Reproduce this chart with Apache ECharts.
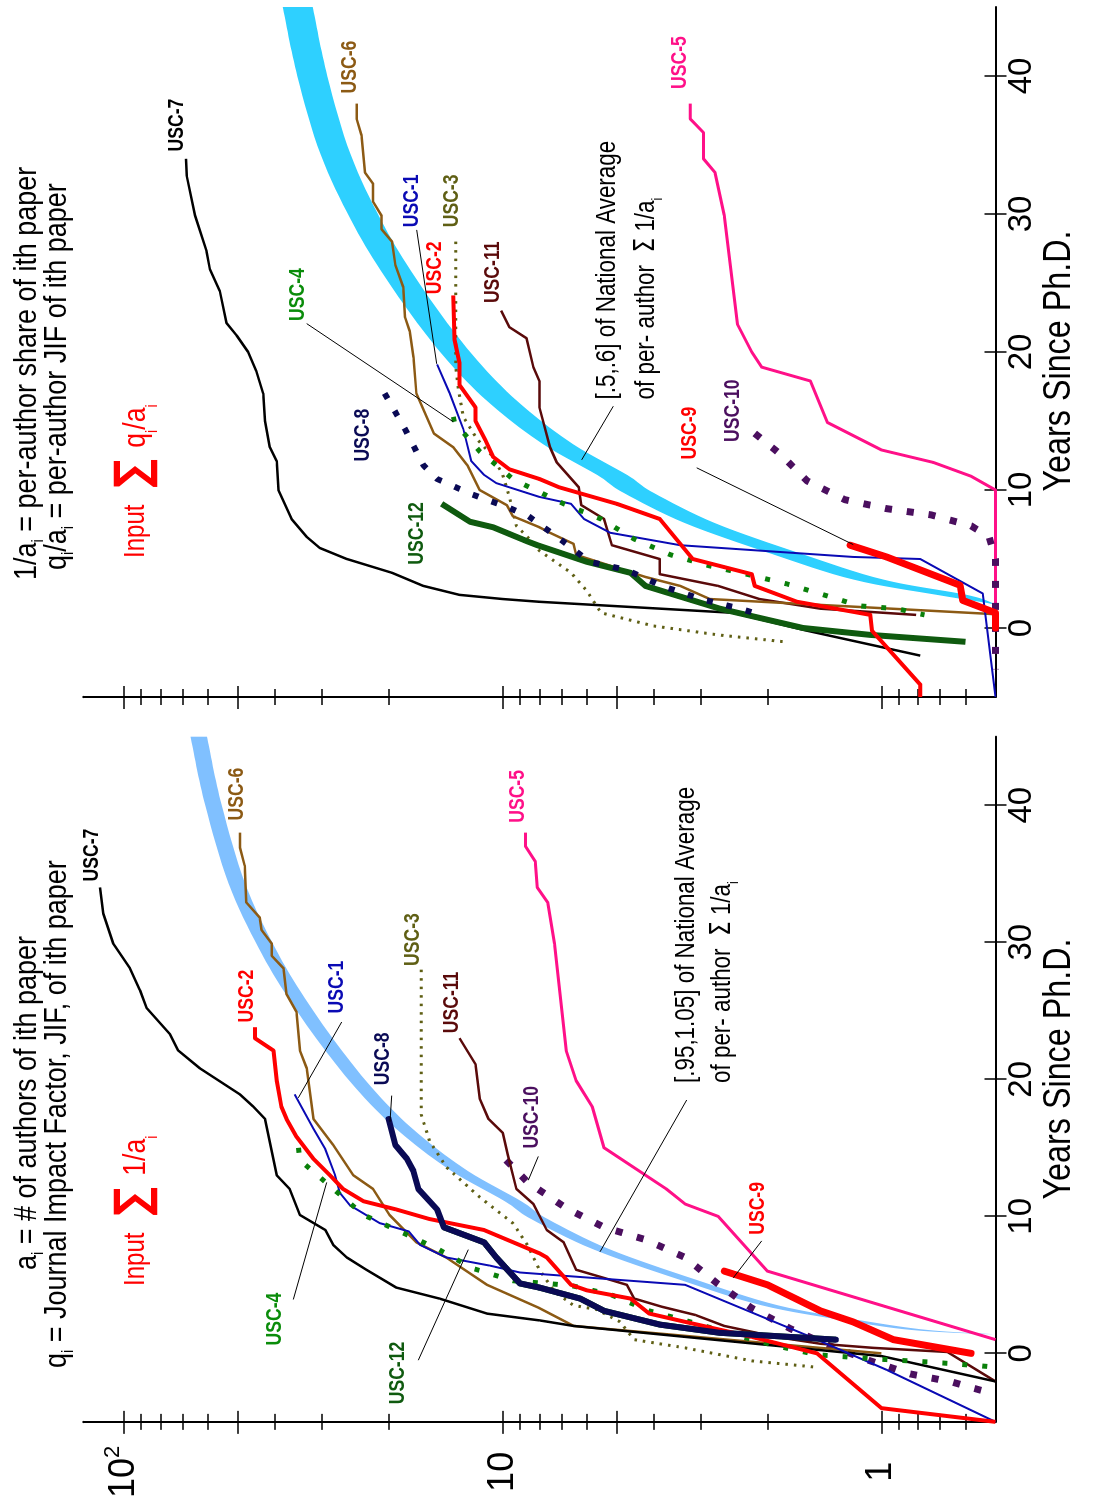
<!DOCTYPE html>
<html>
<head>
<meta charset="utf-8">
<script src="https://cdn.jsdelivr.net/npm/echarts@6/dist/echarts.min.js"></script>
<style>
  html, body { margin: 0; padding: 0; background: #fff; overflow: hidden; width: 1095px; height: 1501px; }
  /* the figure is laid out landscape and turned a quarter-turn counter-clockwise */
  #frame { position: absolute; left: 0; top: 0; width: 1501px; height: 1095px;
           transform-origin: 0 0; transform: translate(0, 1501px) rotate(-90deg); }
</style>
</head>
<body>
<div id="frame"></div>
<script>
// ---------- axis ticks ----------
const yearTicks = [0, 10, 20, 30, 40];
const logLabelValues = [1, 10, 100];
const majorTicks = [1, 5, 10, 50, 100];
const minorTicks = [0.6, 0.7, 0.8, 0.9, 2, 3, 4, 6, 7, 8, 9, 20, 30, 40, 60, 70, 80, 90];

// ---------- national average of per-author sum 1/a_i  [years since Ph.D., value] ----------
const nationalAvg = [[1.4,0.5],[1.7,0.79],[2.4,1.19],[3.5,1.97],[5.4,3.27],[7.6,5.5],[9.8,8.0],[11.1,9.4],
  [13.3,13],[15.8,17.2],[18.6,22],[22.1,28],[25.9,35],[29.6,42],[34.3,50.4],[40,58.1],[45,63.5]];
const bandLeft = [0.95, 1.05];   // [.95,1.05] of national average
const bandRight = [0.5, 0.6];    // [.5,.6] of national average

// ---------- left panel: sum of 1/a_i ----------
const usc7_invA = [[34.0,115.7],[32.1,113.4],[29.9,106.7],[28.1,96.4],[26.5,90.7],[25.2,87.1],[23.3,75.6],[22.1,71.9],[20.8,63.0],[18.9,49.4],[18.0,45.5],[17.1,42.4],[13.0,39.5],[12.0,36.5],[10.1,34.3],[9.0,29.4],[7.9,28.0],[7.0,25.8],[6.1,22.9],[4.8,19.1],[4.0,14.7],[2.9,11.0],[2.4,7.97],[2.0,6.5],[-0.2,1.0],[-2.05,0.5]];
const usc6_invA = [[38.0,49.4],[36.9,49.4],[35.6,48.0],[32.9,47.5],[31.8,43.8],[30.9,43.3],[29.9,40.7],[29.0,40.7],[28.1,37.9],[26.2,37.2],[24.9,35.0],[22.1,34.3],[20.8,32.9],[17.1,31.6],[15.2,28.0],[13.0,24.8],[12.0,22.0],[10.1,19.9],[8.1,16.9],[7.0,14.1],[5.0,11.0],[3.3,8.0],[2.0,6.5],[0.0,1.0]];
const usc2_invA = [[23.8,45.1],[23.0,45.1],[22.1,40.3],[19.9,39.5],[18.0,38.4],[17.1,37.2],[15.8,35.0],[14.2,31.6],[13.0,28.6],[12.0,26.4],[11.1,23.3],[10.5,19.1],[9.8,15.6],[9.0,11.2],[7.3,8.0],[7.0,7.65],[5.0,6.6],[4.6,6.0],[4.0,4.6],[2.9,4.1],[2.3,3.3],[1.2,2.2],[0.0,1.48],[-4.0,1.0],[-5.0,0.5]];
const usc1_invA = [[18.9,35.4],[16.4,31.6],[14.9,29.4],[13.0,27.7],[11.7,26.9],[10.8,25.3],[9.5,21.1],[8.9,17.7],[7.9,16.5],[7.0,14.1],[6.4,10.8],[5.9,9.0],[5.0,3.3],[4.0,2.7],[1.3,1.57],[-1.2,0.97],[-5.0,0.5]];
const usc3_invA = [[28.0,16.4],[17.4,16.4],[15.5,15.6],[13.6,14.1],[11.4,11.5],[9.5,9.4],[7.9,8.6],[6.1,8.0],[4.5,7.3],[3.5,6.5],[3.2,5.65],[2.3,4.9],[1.0,4.5],[0.4,3.3],[-0.55,2.2],[-1.0,1.5]];
const usc11_invA = [[23.0,13.0],[21.1,11.8],[18.6,11.5],[17.1,10.9],[16.1,10.0],[14.5,9.7],[12.0,9.2],[10.9,8.3],[9.0,7.65],[8.1,6.9],[6.1,6.4],[5.5,5.4],[5.0,4.7],[4.0,4.5],[3.4,3.8],[2.8,3.1],[2.0,2.6],[1.2,1.9],[0.7,1.45],[0.4,1.05],[0.1,0.67],[-2.05,0.5]];
const usc8_invA = [[17.1,20.0],[15.2,19.2],[14.2,17.9],[13.3,17.2],[12.0,16.7],[10.5,14.9],[9.2,14.3],[8.1,11.2],[7.0,10.4],[5.1,9.0],[4.8,8.0],[4.0,6.25],[3.1,5.4],[2.1,3.85],[1.5,2.67],[1.0,1.32]];
const usc12_invA = [[9.2,14.3],[8.1,11.2],[7.0,10.4],[5.1,9.0],[4.8,8.0],[4.0,6.25],[3.1,5.4],[2.1,3.85],[1.5,2.67],[1.0,1.32]];
const usc4_invA = [[15.0,34.6],[14.1,34.3],[12.0,28.0],[10.1,23.3],[8.9,18.7],[7.6,14.8],[6.2,12.0],[5.3,9.4],[4.95,6.6],[4.3,5.2],[3.1,4.1],[2.3,3.2],[1.3,2.4],[0.55,1.9],[-0.1,1.48],[-0.4,1.05],[-0.65,0.73],[-1.0,0.5]];
const usc5_invA = [[38.0,8.7],[37.0,8.7],[35.9,8.2],[34.0,8.1],[32.9,7.6],[29.9,7.3],[22.1,6.8],[19.9,6.4],[18.0,5.8],[15.0,5.4],[12.0,3.7],[10.9,3.3],[10.0,2.7],[6.0,2.0],[1.0,0.5]];
const usc10_invA = [[14.1,9.8],[12.5,8.6],[10.6,6.8],[9.2,5.4],[8.3,4.2],[7.0,3.3],[5.05,2.7],[3.3,2.2],[1.8,1.74],[0.55,1.37],[-0.55,1.07],[-1.5,0.84],[-2.1,0.65],[-3.0,0.5]];
const usc9_invA = [[6.0,2.6],[5.0,2.0],[3.1,1.45],[2.3,1.19],[1.0,0.93],[0.0,0.58]];

// ---------- right panel: sum of q_i/a_i ----------
const usc7_qA = [[34.0,68.6],[32.8,68.3],[29.9,64.9],[27.3,60.5],[26.0,59.3],[24.4,55.8],[22.1,53.6],[21.2,50.4],[20.0,47.0],[18.6,44.7],[17.0,42.9],[15.0,42.4],[13.1,41.2],[12.1,39.5],[10.0,39.1],[7.9,36.1],[6.6,32.9],[5.8,30.4],[5.0,25.8],[4.0,19.6],[3.05,16.2],[2.4,13.0],[2.1,10.0],[1.9,8.0],[1.1,2.46],[-0.2,1.57],[-2.0,0.79]];
const usc6_qA = [[38.0,24.3],[36.9,24.3],[35.7,23.6],[33.0,23.1],[32.2,22.0],[30.9,22.0],[29.9,20.9],[28.9,20.9],[28.0,19.6],[26.3,19.2],[24.7,18.3],[22.5,18.1],[21.5,17.6],[19.6,17.2],[17.0,16.9],[14.1,15.2],[13.1,13.5],[11.8,12.4],[10.0,11.5],[8.9,9.75],[8.1,9.4],[7.3,8.0],[6.9,7.5],[6.1,6.5],[5.3,6.4],[3.7,4.2],[3.05,3.4],[2.1,2.84],[1.0,0.5]];
const usc2_qA = [[24.1,13.5],[20.9,13.4],[19.2,13.0],[17.6,13.0],[16.0,11.8],[15.0,11.8],[13.6,11.1],[12.4,10.6],[11.5,9.6],[10.8,8.0],[10.2,7.1],[9.0,5.0],[7.9,3.85],[5.0,3.15],[3.9,2.2],[3.05,2.16],[1.9,1.67],[0.95,1.07],[-0.2,1.06],[-4.1,0.79],[-5.0,0.79]];
const usc1_qA = [[19.1,14.9],[17.0,13.8],[14.4,12.7],[12.1,12.1],[11.1,11.2],[10.5,10.4],[9.5,8.0],[9.0,6.6],[7.9,6.1],[6.9,5.2],[6.0,3.4],[5.15,1.19],[5.0,0.79],[2.5,0.54],[-5.0,0.5]];
const usc3_qA = [[28.0,13.3],[18.9,13.3],[17.3,13.1],[15.3,12.7],[13.7,11.7],[12.4,10.6],[11.1,10.0],[9.5,9.6],[7.4,9.2],[6.45,8.5],[5.6,8.0],[4.0,6.6],[2.7,6.0],[1.1,5.5],[0.15,4.0],[-0.5,2.7],[-1.0,1.8]];
const usc11_qA = [[23.0,10.1],[21.8,9.6],[21.0,8.65],[18.9,8.3],[17.9,8.0],[16.0,8.0],[13.1,7.5],[12.0,7.2],[10.2,6.3],[8.9,6.2],[7.9,5.4],[6.0,5.15],[5.0,3.85],[3.9,3.85],[3.05,2.7],[2.1,2.1],[1.4,1.45],[0.95,0.81]];
const usc4_qA = [[15.3,13.5],[14.9,13.4],[12.8,11.5],[10.8,9.4],[10.3,8.65],[9.0,6.9],[7.9,5.5],[6.45,4.5],[5.3,3.6],[4.5,2.84],[3.9,2.27],[3.2,1.78],[2.4,1.42],[1.6,1.14],[1.4,0.91],[0.95,0.77]];
const usc8_qA = [[17.0,20.5],[14.4,18.1],[11.8,16.2],[10.8,14.9],[9.7,12.1],[8.7,9.6],[8.1,8.55],[6.45,7.06],[4.8,5.9],[4.2,4.7],[3.05,3.8],[2.1,3.0],[1.4,2.36],[0.95,2.09]];
const usc12_qA = [[9.0,14.5],[7.7,12.2],[7.3,10.6],[6.3,8.65],[6.0,8.1],[4.8,6.0],[4.0,4.6],[3.05,4.2],[1.4,2.67],[0.0,1.61],[-0.5,1.07],[-1.0,0.6]];
const usc5_qA = [[38.0,3.2],[36.9,3.2],[35.9,2.95],[34.0,2.95],[33.0,2.75],[29.9,2.6],[22.0,2.4],[20.0,2.2],[18.9,2.07],[17.9,1.54],[14.9,1.39],[12.9,1.0],[12.0,0.73],[11.0,0.58],[10.0,0.5],[0.6,0.5]];
const usc10_qA = [[14.1,2.16],[12.6,1.85],[10.65,1.57],[9.3,1.25],[8.65,0.97],[8.2,0.74],[7.4,0.58],[6.6,0.52],[5.0,0.5],[-3.0,0.5]];
const usc9_qA = [[6.0,1.21],[5.15,0.97],[3.1,0.62],[2.0,0.61],[1.1,0.5],[0.0,0.5]];

// ---------- styling ----------
const FONT = "'Liberation Sans','Arimo',sans-serif";
const NARROW = 0.83;   // horizontal squeeze that gives the condensed lettering
const C = {
  usc1: '#0a0ab4', usc2: '#ff0000', usc3: '#5f5f14', usc4: '#0a800a', usc5: '#ff1088', usc6: '#8c5a14',
  usc7: '#000000', usc8: '#0a0a55', usc9: '#ff0000', usc10: '#4b0f5f', usc11: '#5a0a0a', usc12: '#0f5a0f',
  bandLeft: '#80c0ff', bandRight: '#2ed0ff'
};
const GRID_TOP = 83.3, GRID_W = 690, GRID_H = 912.2;
const gridLefts = [74.3, 804];

function xAxesFor(g) {
  const base = { type: 'value', gridIndex: g, min: -5, max: 45, position: 'bottom', splitLine: { show: false } };
  return [
    Object.assign({}, base, {
      axisLine: { show: true, onZero: false, lineStyle: { color: '#000', width: 2 } },
      axisTick: { show: true, inside: false, length: 11, customValues: yearTicks, lineStyle: { color: '#000', width: 1.5 } },
      axisLabel: { show: true, customValues: yearTicks, margin: 10, fontSize: 33, fontFamily: FONT, color: '#000' }
    }),
    Object.assign({}, base, {
      axisLine: { show: false, onZero: false },
      axisTick: { show: true, inside: true, length: 11, customValues: yearTicks, lineStyle: { color: '#000', width: 1.5 } },
      axisLabel: { show: false }
    })
  ];
}

function yAxesFor(g, withLabels) {
  const base = { type: 'log', logBase: 10, gridIndex: g, min: 0.5, max: 128, position: 'left',
                 splitLine: { show: false }, minorTick: { show: false } };
  const mk = (showLine, ticks, inside, len, labels) => Object.assign({}, base, {
    axisLine: { show: showLine, onZero: false, lineStyle: { color: '#000', width: 2 } },
    axisTick: { show: true, inside: inside, length: len, customValues: ticks, lineStyle: { color: '#000', width: 1.5 } },
    axisLabel: labels ? {
      show: true, customValues: logLabelValues, margin: 50, align: 'center',
      formatter: v => { const n = Math.round(v); return n === 100 ? '{m|10}{p|2}' : '{m|' + n + '}'; },
      rich: {
        m: { fontSize: 36, fontFamily: FONT, color: '#000', lineHeight: 44 },
        p: { fontSize: 22, fontFamily: FONT, color: '#000', verticalAlign: 'top' }
      }
    } : { show: false }
  });
  return [
    mk(true, majorTicks, false, 12, withLabels),
    mk(false, majorTicks, true, 11, false),
    mk(false, minorTicks, false, 8, false),
    mk(false, minorTicks, true, 8, false)
  ];
}

// smooth path through screen points (Catmull-Rom as cubic Beziers)
function curvePath(pts, moveFirst) {
  let d = (moveFirst ? 'M' : 'L') + pts[0][0] + ' ' + pts[0][1];
  for (let i = 0; i < pts.length - 1; i++) {
    const p0 = pts[i - 1] || pts[i], p1 = pts[i], p2 = pts[i + 1], p3 = pts[i + 2] || pts[i + 1];
    const c1 = [p1[0] + (p2[0] - p0[0]) / 6, p1[1] + (p2[1] - p0[1]) / 6];
    const c2 = [p2[0] - (p3[0] - p1[0]) / 6, p2[1] - (p3[1] - p1[1]) / 6];
    d += ' C' + c1[0] + ' ' + c1[1] + ' ' + c2[0] + ' ' + c2[1] + ' ' + p2[0] + ' ' + p2[1];
  }
  return d;
}

function bandSeries(g, factors, color) {
  return {
    type: 'custom', xAxisIndex: 2 * g, yAxisIndex: 4 * g, data: [0], clip: true, silent: true, z: 1,
    renderItem: function (params, api) {
      const up = nationalAvg.map(p => api.coord([p[0], Math.max(0.5, p[1] * factors[1])]));
      const lo = nationalAvg.map(p => api.coord([p[0], Math.max(0.5, p[1] * factors[0])])).reverse();
      const d = curvePath(up, true) + ' ' + curvePath(lo, false) + ' Z';
      return { type: 'path', shape: { pathData: d }, style: { fill: color, stroke: null } };
    }
  };
}

function lineSeries(g, name, data, color, width, dash, cap, z) {
  return {
    type: 'line', name: name, data: data, xAxisIndex: 2 * g, yAxisIndex: 4 * g,
    symbol: 'none', showSymbol: false, silent: true, z: z || 3,
    lineStyle: { color: color, width: width, type: dash || 'solid', cap: cap || 'butt', join: 'round' }
  };
}

function panelSeries(g, d) {
  return [
    lineSeries(g, 'USC-5', d.usc5, C.usc5, 3),
    lineSeries(g, 'USC-10', d.usc10, C.usc10, 7, [7, 15]),
    lineSeries(g, 'USC-11', d.usc11, C.usc11, 2.5),
    lineSeries(g, 'USC-3', d.usc3, C.usc3, 3, [2.5, 6]),
    lineSeries(g, 'USC-6', d.usc6, C.usc6, 2.5),
    lineSeries(g, 'USC-7', d.usc7, C.usc7, 2.5),
    lineSeries(g, 'USC-1', d.usc1, C.usc1, 2),
    lineSeries(g, 'USC-4', d.usc4, C.usc4, 5, [5, 15]),
    lineSeries(g, 'USC-12', d.usc12, C.usc12, 6),
    lineSeries(g, 'USC-2', d.usc2, C.usc2, 4),
    g === 0 ? lineSeries(g, 'USC-8', d.usc8, C.usc8, 6, 'solid', 'round')
            : lineSeries(g, 'USC-8', d.usc8, C.usc8, 6, [6, 14]),
    lineSeries(g, 'USC-9', d.usc9, C.usc9, 7, 'solid', 'round', 4)
  ];
}

const leftData = { usc1: usc1_invA, usc2: usc2_invA, usc3: usc3_invA, usc4: usc4_invA, usc5: usc5_invA, usc6: usc6_invA,
  usc7: usc7_invA, usc8: usc8_invA, usc9: usc9_invA, usc10: usc10_invA, usc11: usc11_invA, usc12: usc12_invA };
const rightData = { usc1: usc1_qA, usc2: usc2_qA, usc3: usc3_qA, usc4: usc4_qA, usc5: usc5_qA, usc6: usc6_qA,
  usc7: usc7_qA, usc8: usc8_qA, usc9: usc9_qA, usc10: usc10_qA, usc11: usc11_qA, usc12: usc12_qA };

// ---------- annotations ----------
function tag(text, x, y, color) {
  return { type: 'text', x: x, y: y, z: 50, silent: true, scaleX: 0.8,
    style: { text: text, fill: color, font: 'bold 22px ' + FONT, align: 'center', verticalAlign: 'middle' } };
}
function leader(x1, y1, x2, y2) {
  return { type: 'line', z: 50, silent: true, shape: { x1: x1, y1: y1, x2: x2, y2: y2 }, style: { stroke: '#000', lineWidth: 1 } };
}
function richText(x, y, text, rich, squeeze) {
  return { type: 'text', x: x, y: y, z: 50, silent: true, scaleX: squeeze || NARROW,
    style: { text: text, rich: rich, align: 'left', verticalAlign: 'middle' } };
}
const titleRich = {
  t: { fontSize: 31, fontFamily: FONT, fill: '#000', lineHeight: 40 },
  s: { fontSize: 17, fontFamily: FONT, fill: '#000', verticalAlign: 'bottom' }
};
const inputRich = {
  r: { fontSize: 29, fontFamily: FONT, fill: '#ff0000', lineHeight: 50 },
  sig: { fontSize: 48, fontFamily: 'DejaVu Sans', fontWeight: 'bold', fill: '#ff0000', padding: [0, 14, 0, 20] },
  v: { fontSize: 32, fontFamily: FONT, fill: '#ff0000', lineHeight: 50 },
  s: { fontSize: 17, fontFamily: FONT, fill: '#ff0000', verticalAlign: 'bottom' }
};
const noteRich = {
  t: { fontSize: 27, fontFamily: FONT, fill: '#000', lineHeight: 36 },
  sig: { fontSize: 28, fontFamily: 'DejaVu Sans', fill: '#000' },
  s: { fontSize: 15, fontFamily: FONT, fill: '#000', verticalAlign: 'bottom' }
};
function axisTitle(x) {
  return { type: 'text', x: x, y: 1060, z: 50, silent: true, scaleX: 0.85,
    style: { text: 'Years Since Ph.D.', fill: '#000', font: '38px ' + FONT, align: 'center', verticalAlign: 'middle' } };
}
const TITLE_SQUEEZE = 0.87;

const graphics = [
  // left panel
  richText(231, 27, '{t|a}{s|i}{t| = # of authors of ith paper}', titleRich, TITLE_SQUEEZE),
  richText(133, 57, '{t|q}{s|i}{t| = Journal Impact Factor, JIF, of ith paper}', titleRich, TITLE_SQUEEZE),
  richText(215, 136, '{r|Input}{sig|∑}{v|1/a}{s|i}', inputRich),
  richText(418, 687, '{t|[.95,1.05] of National Average}', noteRich),
  richText(418, 723, '{t|of per- author  }{sig|Σ}{t| 1/a}{s|i}', noteRich),
  leader(401, 686.7, 249.2, 600),
  tag('USC-7', 646, 91.7, C.usc7), tag('USC-6', 707, 236.7, C.usc6), tag('USC-2', 505, 246.7, C.usc2),
  tag('USC-1', 514, 336.7, C.usc1), tag('USC-3', 561.5, 413.3, C.usc3), tag('USC-11', 498.6, 451.7, C.usc11),
  tag('USC-8', 442.2, 383.3, C.usc8), tag('USC-4', 182, 275, '#0a8c0a'), tag('USC-12', 128, 398.3, C.usc12),
  tag('USC-5', 704.6, 518.3, C.usc5), tag('USC-10', 383.7, 531.7, C.usc10), tag('USC-9', 292.6, 758.3, C.usc9),
  leader(479, 341.7, 403.2, 298.3), leader(405.4, 391.7, 379.3, 390), leader(201.5, 293.3, 318.6, 326.7),
  leader(140.8, 418.3, 251.4, 468.3), leader(344.6, 538.3, 320.8, 528.3), leader(260.1, 761.7, 223.2, 733.3),
  axisTitle(432),
  // right panel
  richText(921, 27, '{t|1/a}{s|i}{t| = per-author share of ith paper}', titleRich, TITLE_SQUEEZE),
  richText(931, 57, '{t|q}{s|i}{t|/a}{s|i}{t| = per-author JIF of ith paper}', titleRich, TITLE_SQUEEZE),
  richText(943, 136, '{r|Input}{sig|∑}{v|q}{s|i}{v|/a}{s|i}', inputRich),
  richText(1101.5, 608, '{t|[.5,.6] of National Average}', noteRich),
  richText(1101.5, 647, '{t|of per- author  }{sig|Σ}{t| 1/a}{s|i}', noteRich),
  leader(1094.8, 613.3, 1041.2, 581.7),
  tag('USC-7', 1376, 176.7, C.usc7), tag('USC-6', 1434, 350, C.usc6), tag('USC-1', 1300.1, 411.7, C.usc1),
  tag('USC-3', 1300.1, 451.7, C.usc3), tag('USC-2', 1233.2, 435, C.usc2), tag('USC-11', 1228.7, 493.3, C.usc11),
  tag('USC-4', 1206.4, 298.3, '#0a8c0a'), tag('USC-8', 1065.8, 363.3, C.usc8), tag('USC-12', 967.6, 416.7, C.usc12),
  tag('USC-5', 1438.5, 680, C.usc5), tag('USC-9', 1068, 690, C.usc9), tag('USC-10', 1090.3, 733.3, C.usc10),
  leader(1271.1, 416.7, 1137.2, 436.7), leader(1177.4, 306.7, 1079.2, 453.3), leader(1033.2, 696.7, 956.4, 853.3),
  axisTitle(1140)
];

const chart = echarts.init(document.getElementById('frame'), null, { renderer: 'canvas', width: 1501, height: 1095 });
chart.setOption({
  animation: false,
  backgroundColor: '#ffffff',
  grid: gridLefts.map(l => ({ left: l, top: GRID_TOP, width: GRID_W, height: GRID_H, containLabel: false })),
  xAxis: xAxesFor(0).concat(xAxesFor(1)),
  yAxis: yAxesFor(0, true).concat(yAxesFor(1, false)),
  series: [bandSeries(0, bandLeft, C.bandLeft), bandSeries(1, bandRight, C.bandRight)]
    .concat(panelSeries(0, leftData)).concat(panelSeries(1, rightData)),
  graphic: graphics
});
</script>
</body>
</html>
